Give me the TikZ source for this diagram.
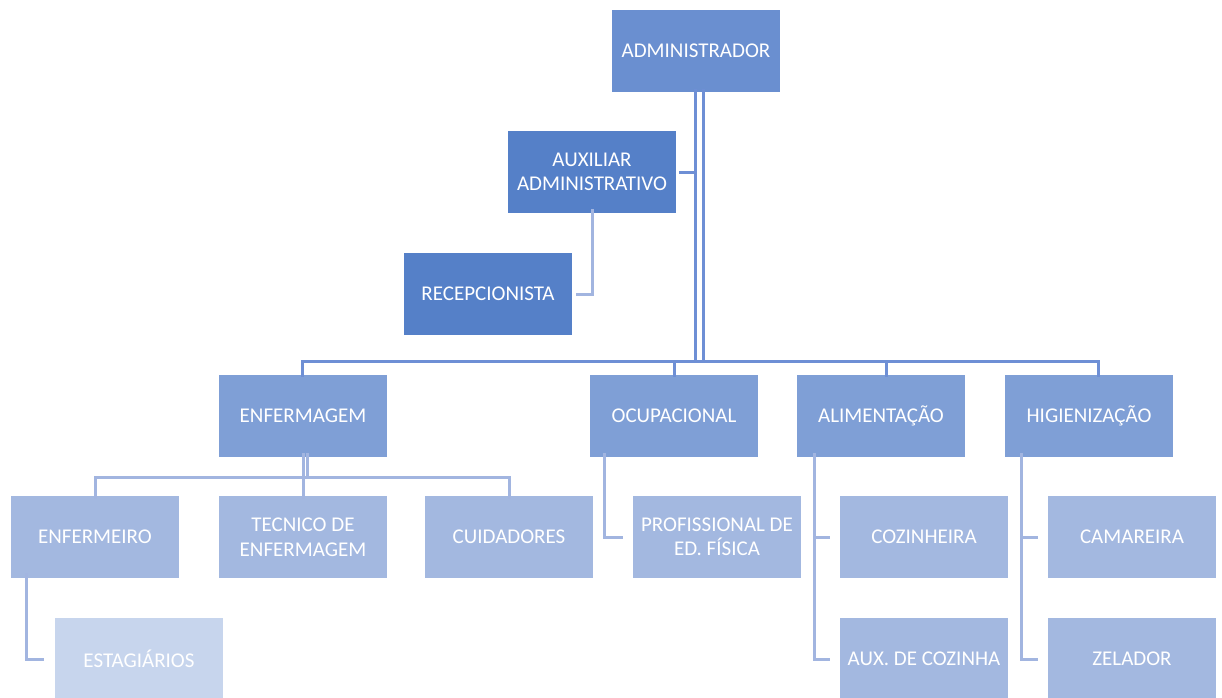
\documentclass[tikz,border=0pt]{standalone}
\usepackage{fontspec}
\setmainfont{Carlito}
\usetikzlibrary{calc}
\definecolor{cAdmin}{HTML}{6A8FD0}
\definecolor{cAux}{HTML}{5580C8}
\definecolor{cLvlTwo}{HTML}{7F9FD6}
\definecolor{cLvlThree}{HTML}{A3B8E0}
\definecolor{cLvlFour}{HTML}{C7D5ED}
\definecolor{lnA}{HTML}{6E8FD5}
\definecolor{lnB}{HTML}{A2B5E0}
\tikzset{
  box/.style={rectangle, minimum width=168pt, minimum height=82pt, inner sep=0pt,
    text=white, align=center, font=\fontsize{21pt}{24.5pt}\selectfont},
  lineA/.style={draw=lnA, line width=3pt},
  lineB/.style={draw=lnB, line width=3pt},
}
\begin{document}
\begin{tikzpicture}[x=1pt,y=-1pt]
\useasboundingbox (0,0) rectangle (1222,697);
\clip (0,0) rectangle (1222,697);
% nodes
\node[box, fill=cAdmin] (admin) at (696,50.5) {ADMINISTRADOR};
\node[box, fill=cAux] (aux) at (592,172) {AUXILIAR\\ADMINISTRATIVO};
\node[box, fill=cAux] (recep) at (488,294) {RECEPCIONISTA};
\node[box, fill=cLvlTwo] (enf) at (303,416) {ENFERMAGEM};
\node[box, fill=cLvlTwo] (ocup) at (674,416) {OCUPACIONAL};
\node[box, fill=cLvlTwo] (alim) at (881,416) {ALIMENTAÇÃO};
\node[box, fill=cLvlTwo] (hig) at (1089,416) {HIGIENIZAÇÃO};
\node[box, fill=cLvlThree] (enfro) at (95,537) {ENFERMEIRO};
\node[box, fill=cLvlThree] (tec) at (303,537) {TECNICO DE\\ENFERMAGEM};
\node[box, fill=cLvlThree] (cuid) at (509,537) {CUIDADORES};
\node[box, fill=cLvlThree] (prof) at (717,537) {PROFISSIONAL DE\\ED. FÍSICA};
\node[box, fill=cLvlThree] (coz) at (924,537) {COZINHEIRA};
\node[box, fill=cLvlThree] (cam) at (1132,537) {CAMAREIRA};
\node[box, fill=cLvlFour] (estag) at (139,659) {ESTAGIÁRIOS};
\node[box, fill=cLvlThree] (auxc) at (924,659) {AUX. DE COZINHA};
\node[box, fill=cLvlThree] (zel) at (1132,659) {ZELADOR};
% admin to level 2
\coordinate (busL) at ([xshift=-1pt,yshift=3pt]admin.south);
\coordinate (busR) at ([xshift=7pt,yshift=3pt]admin.south);
\draw[lineA] (busL) -- (busL |- 0,361);
\draw[lineA] (busR) -- (busR |- 0,361);
\draw[lineA] ([xshift=-1pt,yshift=-2pt]enf.north) -- ([xshift=-1pt]enf.north |- 0,361) -| ([xshift=9pt,yshift=-2pt]hig.north);
\draw[lineA] ([yshift=-2pt]ocup.north) -- (ocup.north |- 0,361);
\draw[lineA] ([xshift=5pt,yshift=-2pt]alim.north) -- ([xshift=5pt]alim.north |- 0,361);
\draw[lineA] (busL |- aux.east) -- ([xshift=3pt]aux.east);
\draw[lineB] ([yshift=4pt]aux.south) |- ([xshift=4pt]recep.east);
% enfermagem
\draw[lineB] ([yshift=4pt]enf.south) -- (enf.south |- 0,477);
\draw[lineB] ([xshift=4pt,yshift=4pt]enf.south) -- ([xshift=4pt]enf.south |- 0,477);
\draw[lineB] ([yshift=-3pt]enfro.north) -- (enfro.north |- 0,477) -| ([yshift=-3pt]cuid.north);
\draw[lineB] ([yshift=-3pt]tec.north) -- (tec.north |- 0,477);
\draw[lineB] ([xshift=16pt,yshift=5pt]enfro.south west) |- ([xshift=-11pt]estag.west);
% ocupacional
\draw[lineB] ([xshift=15pt,yshift=4pt]ocup.south west) |- ([xshift=-10pt]prof.west);
% alimentacao
\draw[lineB] ([xshift=18pt,yshift=4pt]alim.south west) |- ([xshift=-10pt]auxc.west);
\draw[lineB] ([xshift=18pt]alim.south west |- coz.west) -- ([xshift=-10pt]coz.west);
% higienizacao
\draw[lineB] ([xshift=17pt,yshift=4pt]hig.south west) |- ([xshift=-10pt]zel.west);
\draw[lineB] ([xshift=17pt]hig.south west |- cam.west) -- ([xshift=-10pt]cam.west);
\end{tikzpicture}
\end{document}
